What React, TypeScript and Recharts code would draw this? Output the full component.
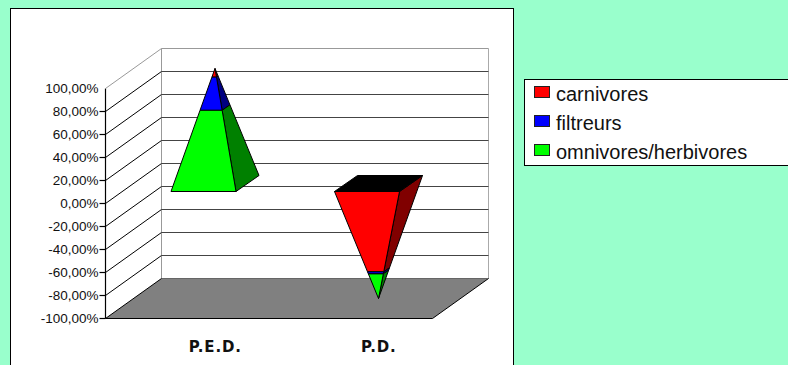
import { Bar, CartesianGrid, ComposedChart, Legend, XAxis, YAxis } from "recharts";

const categories = ["P.E.D.", "P.D."];
const carnivores = [7, -75];
const filtreurs = [27, -2];
const omnivores = [66, -23];
const yTicks = [100, 80, 60, 40, 20, 0, -20, -40, -60, -80, -100];

const lightColors: Record<string, string> = { carnivores: "#ff0000", filtreurs: "#0000ff", omnivores: "#00ff00" };
const darkColors: Record<string, string> = { carnivores: "#800000", filtreurs: "#000080", omnivores: "#008000" };

// front plane of the plot, the 3d box is pushed back from it by depthX/depthY
// half pixels so the 1px lines stay crisp
const plotLeft = 105.5;
const plotRight = 432.5;
const plotTop = 88.5;
const plotBottom = 318.5;
const depthX = 56;
const depthY = 40;
const tickLength = 6;
// pyramid base footprint inside the box
const halfDepthX = 11.5;
const halfDepthY = 8;

// positives pile up omnivores first, negatives hang carnivores first
const series = { carnivores, filtreurs, omnivores };
const rows = categories.map((name, i) => {
  const order = carnivores[i] + filtreurs[i] + omnivores[i] > 0
    ? (["omnivores", "filtreurs", "carnivores"] as const)
    : (["carnivores", "filtreurs", "omnivores"] as const);
  const row: any = { name };
  let start = 0;
  for (const key of order) {
    const end = start + series[key][i];
    row[key] = [Math.min(start, end), Math.max(start, end)];
    start = end;
  }
  return row;
});

const poly = (pts: number[][]) => pts.map((p) => p.join(",")).join(" ");

// one slice of the pyramid, y and height come from the value axis
const pyramidSlice = (key: string) => (props: any) => {
  const { x, y, width, height, payload } = props;
  const [lo, hi] = payload[key];
  const perUnit = height / (hi - lo);
  const cx = x + width / 2 + depthX / 2;
  const at = (v: number) => {
    const k = 1 - Math.abs(v) / 100;
    const cy = y + (hi - v) * perUnit - depthY / 2;
    const w = (width / 2) * k;
    return {
      fl: [cx - w - halfDepthX * k, cy + halfDepthY * k],
      fr: [cx + w - halfDepthX * k, cy + halfDepthY * k],
      br: [cx + w + halfDepthX * k, cy - halfDepthY * k],
      bl: [cx - w + halfDepthX * k, cy - halfDepthY * k],
    };
  };
  const a = at(lo);
  const b = at(hi);
  return (
    <g stroke="#000" strokeWidth={1} strokeLinejoin="round">
      <polygon points={poly([a.fr, a.br, b.br, b.fr])} fill={darkColors[key]} />
      <polygon points={poly([a.fl, a.fr, b.fr, b.fl])} fill={lightColors[key]} />
      {hi === 0 && <polygon points={poly([b.fl, b.fr, b.br, b.bl])} fill="#000" />}
    </g>
  );
};

// axis line, tick marks, side wall, back wall and floor hang off each grid line
const wallLine = (props: any) => {
  const y = props.y1;
  const top = Math.abs(y - plotTop) < 0.6;
  const bottom = Math.abs(y - plotBottom) < 0.6;
  return (
    <g key={props.key}>
      {top && (
        <>
          <line x1={plotLeft} y1={plotTop} x2={plotLeft} y2={plotBottom} stroke="#000" strokeWidth={1.2} />
          <line x1={plotLeft + depthX} y1={y - depthY} x2={plotLeft + depthX} y2={plotBottom - depthY} stroke="#999" />
          <line x1={plotRight + depthX} y1={y - depthY} x2={plotRight + depthX} y2={plotBottom - depthY} stroke="#aaa" />
        </>
      )}
      {!top && <line x1={plotLeft - tickLength} y1={y} x2={plotLeft} y2={y} stroke="#000" strokeWidth={1.2} />}
      {bottom ? (
        <>
          <polygon
            points={poly([
              [plotLeft, y],
              [plotLeft + depthX, y - depthY],
              [plotRight + depthX, y - depthY],
              [plotRight, y],
            ])}
            fill="#808080"
            stroke="#000"
          />
          <line x1={plotLeft + depthX} y1={y - depthY} x2={plotRight + depthX} y2={y - depthY} stroke="#666" />
        </>
      ) : (
        <>
          <line x1={plotLeft} y1={y} x2={plotLeft + depthX} y2={y - depthY} stroke={top ? "#999" : "#000"} />
          <line x1={plotLeft + depthX} y1={y - depthY} x2={plotRight + depthX} y2={y - depthY} stroke={top ? "#999" : "#444"} />
        </>
      )}
    </g>
  );
};

const CategoryTick = (props: any) => (
  <text
    x={props.x + depthX / 2}
    y={352}
    textAnchor="middle"
    fontFamily="DejaVu Sans"
    fontWeight="bold"
    fontSize={15}
    letterSpacing={0.8}
    fill="#111"
  >
    {props.payload.value}
  </text>
);

const LegendBox = (props: any) => (
  <div
    style={{
      boxSizing: "border-box",
      width: 270,
      height: 87,
      background: "#fff",
      border: "1px solid #000",
      fontFamily: "Liberation Sans",
      fontSize: 20,
      color: "#111",
    }}
  >
    {props.payload.map((item: any) => (
      <div key={item.value} style={{ height: 29, lineHeight: "28px", position: "relative", paddingLeft: 31 }}>
        <span
          style={{
            position: "absolute",
            left: 9,
            top: 6,
            width: 14,
            height: 10,
            background: item.color,
            border: "1px solid #222",
          }}
        />
        {item.value}
      </div>
    ))}
  </div>
);

export default function App() {
  return (
    <div
      style={{
        position: "absolute",
        left: 0,
        top: 0,
        width: 788,
        height: 365,
        overflow: "hidden",
        background: "#99ffcc",
      }}
    >
      <div
        style={{
          position: "absolute",
          left: 10,
          top: 8,
          width: 502,
          height: 370,
          background: "#fff",
          border: "1px solid #000",
        }}
      />
      <div style={{ position: "absolute", left: 0, top: 0 }}>
        <ComposedChart
          width={788}
          height={365}
          data={rows}
          barSize={65}
          barGap={-65}
          margin={{ top: plotTop, right: 788 - plotRight, bottom: 0, left: plotLeft - 96 }}
        >
          <CartesianGrid horizontal={wallLine} vertical={false} />
          <XAxis dataKey="name" height={365 - plotBottom} axisLine={false} tickLine={false} tick={<CategoryTick />} />
          <YAxis
            width={96}
            domain={[-100, 100]}
            ticks={yTicks}
            interval={0}
            tickFormatter={(v: number) => `${v},00%`}
            axisLine={false}
            tickLine={false}
            tickSize={0}
            tickMargin={7}
            tick={{ fontFamily: "Liberation Sans", fontSize: 13.5, fill: "#111" }}
          />
          <Bar dataKey="carnivores" name="carnivores" fill={lightColors.carnivores} shape={pyramidSlice("carnivores")} isAnimationActive={false} />
          <Bar dataKey="filtreurs" name="filtreurs" fill={lightColors.filtreurs} shape={pyramidSlice("filtreurs")} isAnimationActive={false} />
          <Bar dataKey="omnivores" name="omnivores/herbivores" fill={lightColors.omnivores} shape={pyramidSlice("omnivores")} isAnimationActive={false} />
          <Legend
            layout="vertical"
            align="center"
            verticalAlign="middle"
            content={<LegendBox />}
            wrapperStyle={{ left: 524, top: 79, width: 270, height: 87 }}
          />
        </ComposedChart>
      </div>
    </div>
  );
}
